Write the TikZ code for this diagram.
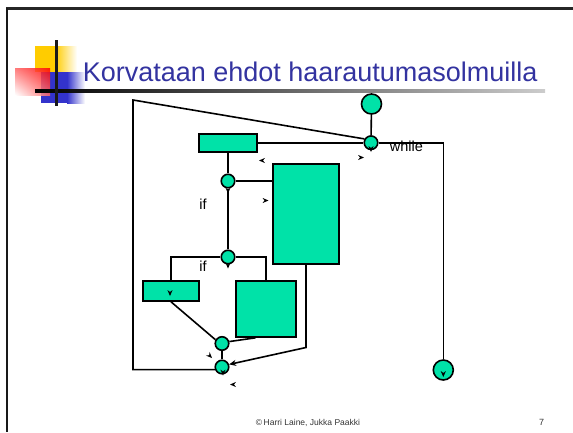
\documentclass[tikz,border=0pt]{standalone}
\usepackage{fontspec}
\setmainfont{Liberation Sans}
\usetikzlibrary{arrows.meta,calc,shadings}
\definecolor{tealc}{RGB}{0,226,168}
\definecolor{titleblue}{RGB}{51,51,160}
\definecolor{decoyellow}{RGB}{255,204,0}
\definecolor{decoblue}{RGB}{51,51,204}
\begin{document}
\begin{tikzpicture}[x=1pt,y=-1pt,line width=1.6pt,
  blk/.style={draw,fill=tealc,rectangle,inner sep=0pt},
  dot/.style={draw,fill=tealc,circle,inner sep=0pt,minimum size=13.5pt},
  bigdot/.style={draw,fill=tealc,circle,inner sep=0pt,minimum size=20pt},
  lbl/.style={font=\fontsize{14.5}{17}\selectfont,inner sep=0pt},
  tip/.pic={\fill[black] (0,0) -- (-6,2.6) -- (-4,0) -- (-6,-2.6) -- cycle;}]
\useasboundingbox (0,0) rectangle (573,432);
% slide frame
\draw[line width=2.5pt,black!85] (6,8.5) -- (573,8.5);
\draw[line width=2.5pt,black!90] (7,8) -- (7,432);
% header decoration
\fill[decoyellow] (35,46) rectangle (55.5,72);
\shade[left color=decoyellow,right color=white] (55,46) rectangle (77,72);
\fill[decoblue] (41,72) rectangle (67.5,103);
\shade[left color=decoblue,right color=white] (67,72) rectangle (85,103);
\shade[upper right=red,lower left=white,upper left=red!60,lower right=red!60,opacity=0.85] (15,68) rectangle (50,95);
\shade[left color=black,middle color=black!70,right color=black!20] (35,89.5) rectangle (545,92.5);
\fill[black!90] (55.4,40) rectangle (58.1,106);
\node[anchor=base west,text=titleblue,font=\fontsize{27}{32}\selectfont,inner sep=0pt] (title) at (82,81) {Korvataan ehdot haarautumasolmuilla};
% nodes
\node[bigdot] (start) at (371.5,104) {};
\node[dot] (wh) at (371,142.7) {};
\node[blk,minimum width=58pt,minimum height=18pt] (r1) at (228,143) {};
\node[dot] (if1) at (228,181) {};
\node[blk,minimum width=66pt,minimum height=100pt] (big) at (306,214) {};
\node[dot] (if2) at (228,257) {};
\node[blk,minimum width=56pt,minimum height=20pt] (r2) at (171,291) {};
\node[blk,minimum width=60pt,minimum height=56pt] (r3) at (266,309) {};
\node[dot] (j1) at (222,343.5) {};
\node[dot] (j2) at (222,367) {};
\node[bigdot] (end) at (443.3,370) {};
\node[lbl,anchor=west] (lwhile) at (389,146.5) {while};
\node[lbl] (lif1) at (203,204) {if};
\node[lbl] (lif2) at (203,266) {if};
% connectors
\draw (start) -- (wh);
\draw (r1.east) -- (r1.east -| wh.west);
\draw (wh.east) -- (wh.east -| end.north) -- (end.north);
\coordinate (tl) at (133,100);
\draw (wh.150) -- (tl) -- (tl |- j2.200) -- (j2.200);
\draw (r1.south) -- (if1.north);
\draw (if1.east) -- (if1.east -| big.west);
\draw (if1.south) -- (if2.north);
\draw (if2.west) -- (if2.west -| r2.north) -- (r2.north);
\draw (if2.east) -- (if2.east -| r3.north) -- (r3.north);
\draw (r2.south) -- (j1.150);
\draw ($(r3.south west)!0.33!(r3.south east)$) -- (j1.15);
\draw (j1.south) -- (j2.north);
\draw[-{Stealth[length=7pt,width=6pt]}] (big.south) -- ++(0,82.7) -- (j2.20);
% arrow marks
\pic[rotate=-90] at (371,152) {tip};
\pic[rotate=-90] at (228,193.5) {tip};
\pic[rotate=-90] at (228,268.5) {tip};
\pic[rotate=-90] at (223,375.5) {tip};
\pic[rotate=-90] at (443.3,377) {tip};
\pic[rotate=-90] at (170,296) {tip};
\pic[rotate=180] at (259,160.5) {tip};
\pic at (364,157.5) {tip};
\pic at (268.5,200.5) {tip};
\pic[rotate=-45] at (212,358) {tip};
\pic[rotate=180] at (230,384.5) {tip};
% footer
\node[anchor=base,font=\fontsize{8.5}{10}\selectfont,text=black!80,inner sep=0pt] (foot) at (308,425) {\textcopyright\,Harri Laine, Jukka Paakki};
\node[anchor=base,font=\fontsize{9}{10}\selectfont,text=black!80,inner sep=0pt] (pg) at (541.5,425) {7};
\end{tikzpicture}
\end{document}
